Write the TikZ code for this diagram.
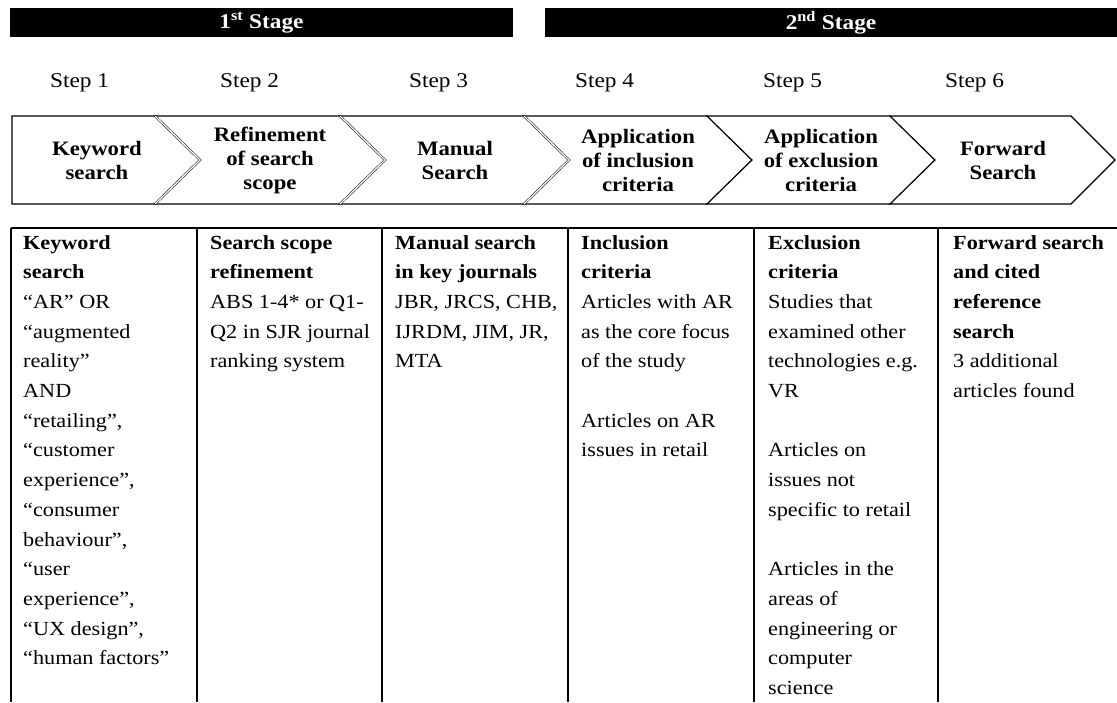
\documentclass[tikz,border=0pt]{standalone}
\usepackage{fontspec}
\setmainfont[FakeStretch=1.11]{Liberation Serif}
\usepackage{tikz}

\begin{document}
\begin{tikzpicture}[
        x=1pt, y=-1pt,
        stagetext/.style={text=white, inner sep=0pt, font=\fontsize{21}{22}\selectfont\bfseries},
        steplabel/.style={anchor=west, inner sep=0pt, font=\fontsize{21}{22}\selectfont},
        chevron/.style={draw, line width=1.1pt, fill=white, line join=miter},
        dblside/.style={line width=0.5pt, double, double distance=1.3pt, line join=miter},
        chevtext/.style={align=center, inner sep=0pt, font=\fontsize{20.5}{24}\selectfont\bfseries},
        rule/.style={line width=1.2pt},
        celltext/.style={
            anchor=north west,
            align=left,
            inner sep=0pt,
            font=\fontsize{20}{29.7}\selectfont
        }
    ]
    \useasboundingbox (0,0) rectangle (1117,702);

    % stage bars
    \fill (10,8) rectangle (513,37);
    \fill (545,8) rectangle (1117,37);
    \node[stagetext] (stage1) at (261.5,22.5) {1\textsuperscript{st} Stage};
    \node[stagetext] (stage2) at (831,22.5) {2\textsuperscript{nd} Stage};

    % step labels
    \node[steplabel] (step1) at (50,83) {Step 1};
    \node[steplabel] (step2) at (220,83) {Step 2};
    \node[steplabel] (step3) at (409,83) {Step 3};
    \node[steplabel] (step4) at (575,83) {Step 4};
    \node[steplabel] (step5) at (763,83) {Step 5};
    \node[steplabel] (step6) at (945,83) {Step 6};

    % chevrons
    \path[chevron] (12,116) -- (155,116) -- (200,160) -- (155,204) -- (12,204) -- cycle;
    \path[chevron] (155,116) -- (340,116) -- (385,160) -- (340,204) -- (155,204) -- (200,160) -- cycle;
    \path[chevron] (340,116) -- (524,116) -- (569,160) -- (524,204) -- (340,204) -- (385,160) -- cycle;
    \path[chevron] (524,116) -- (707,116) -- (752,160) -- (707,204) -- (524,204) -- (569,160) -- cycle;
    \path[chevron] (707,116) -- (890,116) -- (935,160) -- (890,204) -- (707,204) -- (752,160) -- cycle;
    \path[chevron] (890,116) -- (1071,116) -- (1115,160) -- (1071,204) -- (890,204) -- (935,160) -- cycle;
    \draw[dblside] (155,116) -- (200,160) -- (155,204);
    \draw[dblside] (340,116) -- (385,160) -- (340,204);
    \draw[dblside] (524,116) -- (569,160) -- (524,204);

    \node[chevtext] (kw) at (97,160) {Keyword\\search};
    \node[chevtext] (ref) at (270,160) {Refinement\\of search\\scope};
    \node[chevtext] (man) at (455,160) {Manual\\Search};
    \node[chevtext] (inc) at (638,160) {Application\\of inclusion\\criteria};
    \node[chevtext] (exc) at (821,160) {Application\\of exclusion\\criteria};
    \node[chevtext] (fwd) at (1003,160) {Forward\\Search};

    % table
    \draw[rule] (11,228) -- (1117,228);
    \draw[rule] (11,228) -- (11,702);
    \draw[rule] (197,228) -- (197,702);
    \draw[rule] (382,228) -- (382,702);
    \draw[rule] (568,228) -- (568,702);
    \draw[rule] (754,228) -- (754,702);
    \draw[rule] (938,228) -- (938,702);

    \node[celltext] (col1) at (23,235) {%
        \textbf{Keyword}\\\textbf{search}\\“AR” OR\\“augmented\\reality”\\AND\\%
        “retailing”,\\“customer\\experience”,\\“consumer\\behaviour”,\\%
        “user\\experience”,\\“UX design”,\\“human factors”};
    \node[celltext] (col2) at (210,235) {%
        \textbf{Search scope}\\\textbf{refinement}\\ABS 1-4* or Q1-\\%
        Q2 in SJR journal\\ranking system};
    \node[celltext] (col3) at (395,235) {%
        \textbf{Manual search}\\\textbf{in key journals}\\JBR, JRCS, CHB,\\%
        IJRDM, JIM, JR,\\MTA};
    \node[celltext] (col4) at (581,235) {%
        \textbf{Inclusion}\\\textbf{criteria}\\Articles with AR\\as the core focus\\%
        of the study\\[29.7pt]Articles on AR\\issues in retail};
    \node[celltext] (col5) at (768,235) {%
        \textbf{Exclusion}\\\textbf{criteria}\\Studies that\\examined other\\%
        technologies e.g.\\VR\\[29.7pt]Articles on\\issues not\\specific to retail\\[29.7pt]%
        Articles in the\\areas of\\engineering or\\computer\\science};
    \node[celltext] (col6) at (953,235) {%
        \textbf{Forward search}\\\textbf{and cited}\\\textbf{reference}\\\textbf{search}\\%
        3 additional\\articles found};
\end{tikzpicture}
\end{document}
